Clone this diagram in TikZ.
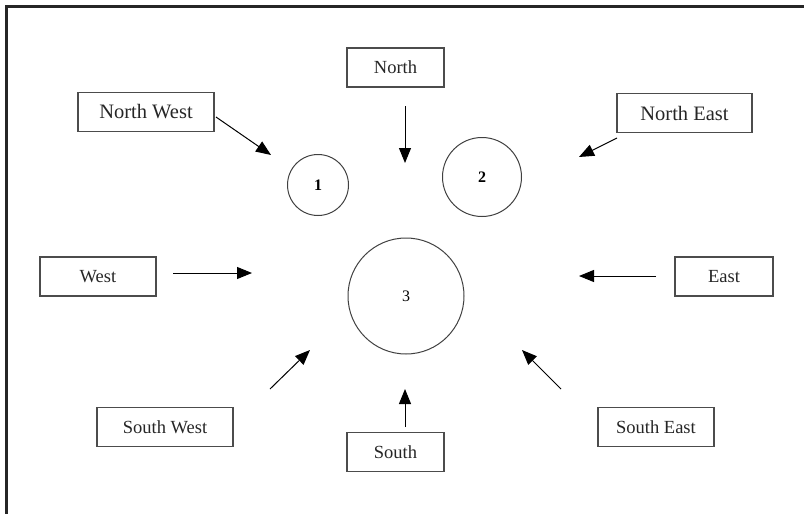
\documentclass[tikz,border=0pt]{standalone}
\usepackage{fontspec}
\setmainfont{Liberation Serif}
\usetikzlibrary{arrows.meta}

\begin{document}
\begin{tikzpicture}[x=1pt,y=-1pt,
  dirbox/.style={draw=black!70,line width=1.1pt,minimum width=#1,minimum height=39pt,inner sep=0pt,text=black!85,font=\fontsize{18.5}{20}\selectfont},
  bigtext/.style={font=\fontsize{20.5}{22}\selectfont},
  zone/.style={draw=black!75,line width=1pt,circle,inner sep=0pt,minimum size=#1,font=\fontsize{16}{18}\selectfont},
  pointer/.style={line width=1pt,-{Triangle[length=15pt,width=12pt]}}]
\useasboundingbox (0,0) rectangle (804,514);

% frame
\draw[line width=2.5pt,black!85] (6.5,514) -- (6.5,6.5) -- (804,6.5);

% direction boxes
\node[dirbox=136pt,bigtext] (nw) at (146,112)   {North West};
\node[dirbox=97pt]          (n)  at (395.5,67.5) {North};
\node[dirbox=135pt,bigtext] (ne) at (684.5,113) {North East};
\node[dirbox=116pt]         (w)  at (98,276.5)  {West};
\node[dirbox=98pt]          (e)  at (724,276.5) {East};
\node[dirbox=136pt]         (sw) at (165,427)   {South West};
\node[dirbox=97pt]          (s)  at (395.5,452) {South};
\node[dirbox=116pt]         (se) at (656,427)   {South East};

% zones
\node[zone=61pt]  (c1) at (318,185) {\textbf{1}};
\node[zone=79pt]  (c2) at (482,177) {\textbf{2}};
\node[zone=116pt] (c3) at (406,296) {3};

% arrow ends
\coordinate (nw-from) at (216,117); \coordinate (nw-to) at (271,155);
\coordinate (n-from)  at (405,106); \coordinate (n-to)  at (405,163);
\coordinate (ne-from) at (617,138); \coordinate (ne-to) at (579,157);
\coordinate (w-from)  at (173,273); \coordinate (w-to)  at (252,273);
\coordinate (e-from)  at (656,276); \coordinate (e-to)  at (579,276);
\coordinate (sw-from) at (270,389); \coordinate (sw-to) at (310,350);
\coordinate (s-from)  at (405,427); \coordinate (s-to)  at (405,389);
\coordinate (se-from) at (561,389); \coordinate (se-to) at (522,350);

\foreach \d in {nw,n,ne,w,e,sw,s,se}
  \draw[pointer] (\d-from) -- (\d-to);
\end{tikzpicture}
\end{document}
